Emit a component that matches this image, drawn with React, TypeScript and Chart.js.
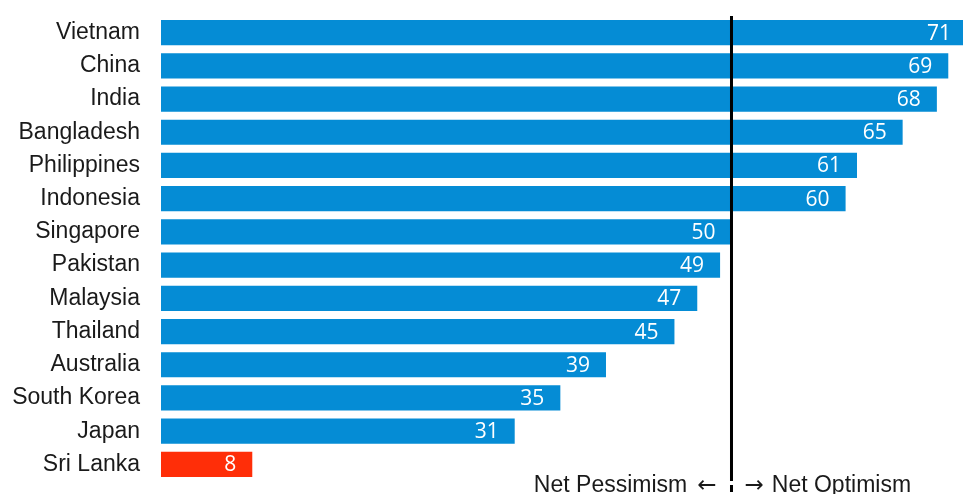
import React, { useEffect, useRef } from "react";
import { Chart, registerables } from "chart.js";

Chart.register(...registerables);

const categories = [
  "Vietnam", "China", "India", "Bangladesh", "Philippines", "Indonesia", "Singapore",
  "Pakistan", "Malaysia", "Thailand", "Australia", "South Korea", "Japan", "Sri Lanka",
];
const values = [71, 69, 68, 65, 61, 60, 50, 49, 47, 45, 39, 35, 31, 8];
const barColors = [
  "#058CD5", "#058CD5", "#058CD5", "#058CD5", "#058CD5", "#058CD5", "#058CD5",
  "#058CD5", "#058CD5", "#058CD5", "#058CD5", "#058CD5", "#058CD5", "#FF2E08",
];
const dividerValue = 50;
const leftNote = "Net Pessimism";
const rightNote = "Net Optimism";
const leftArrow = "\u2190";
const rightArrow = "\u2192";

const textFont = '23px "Liberation Sans", Arial, sans-serif';
const arrowFont = '23px "DejaVu Sans", sans-serif';

const overlayPlugin = {
  id: "overlay",
  afterDatasetsDraw(chart: any) {
    const { ctx, chartArea } = chart;
    const meta = chart.getDatasetMeta(0);
    ctx.save();
    ctx.fillStyle = "#ffffff";
    ctx.font = '21px "Open Sans"';
    ctx.textAlign = "right";
    ctx.textBaseline = "middle";
    meta.data.forEach((bar: any, i: number) => {
      const end = Math.min(bar.x, chartArea.right + 4);
      ctx.fillText(String(values[i]), end - 16, bar.y + 1);
    });
    ctx.restore();
  },
  afterDraw(chart: any) {
    const { ctx } = chart;
    const x = chart.scales.x.getPixelForValue(dividerValue);
    ctx.save();
    ctx.strokeStyle = "#000000";
    ctx.lineWidth = 3;
    ctx.beginPath();
    ctx.moveTo(x, 16);
    ctx.lineTo(x, 481);
    ctx.moveTo(x, 485);
    ctx.lineTo(x, 492);
    ctx.stroke();

    const baseline = 491.5;
    ctx.fillStyle = "#1a1a1a";
    ctx.textBaseline = "alphabetic";
    ctx.font = arrowFont;
    const aw = ctx.measureText(leftArrow).width;
    ctx.textAlign = "right";
    ctx.fillText(leftArrow, x - 15, baseline);
    ctx.font = textFont;
    ctx.fillText(leftNote, x - 15 - aw - 10, baseline);
    ctx.font = arrowFont;
    const bw = ctx.measureText(rightArrow).width;
    ctx.textAlign = "left";
    ctx.fillText(rightArrow, x + 13, baseline);
    ctx.font = textFont;
    ctx.fillText(rightNote, x + 13 + bw + 8, baseline);
    ctx.restore();
  },
};

export default function App() {
  const ref = useRef<HTMLCanvasElement>(null);
  useEffect(() => {
    if (!ref.current) return;
    const chart = new Chart(ref.current, {
      type: "bar",
      data: {
        labels: categories,
        datasets: [
          {
            data: values,
            backgroundColor: barColors,
            borderWidth: 0,
            categoryPercentage: 1,
            barPercentage: 0.76,
          },
        ],
      },
      options: {
        indexAxis: "y",
        responsive: false,
        animation: false,
        devicePixelRatio: 1,
        layout: { padding: { top: 16, bottom: 13, left: 0, right: 0 } },
        plugins: { legend: { display: false }, tooltip: { enabled: false } },
        scales: {
          x: { display: false, min: 0, max: 70.29 },
          y: {
            grid: { display: false, drawTicks: false },
            border: { display: false },
            ticks: {
              color: "#1a1a1a",
              padding: 21,
              font: { family: '"Liberation Sans", Arial, sans-serif', size: 23 },
            },
            afterFit: (scale: any) => {
              scale.width = 161;
              scale.paddingTop = 0;
              scale.paddingBottom = 0;
            },
          },
        },
      },
      plugins: [overlayPlugin],
    });
    return () => chart.destroy();
  }, []);
  return (
    <div style={{ position: "absolute", left: 0, top: 0, width: 963, height: 494, background: "#fff" }}>
      <canvas ref={ref} width={963} height={494} style={{ display: "block" }} />
    </div>
  );
}
